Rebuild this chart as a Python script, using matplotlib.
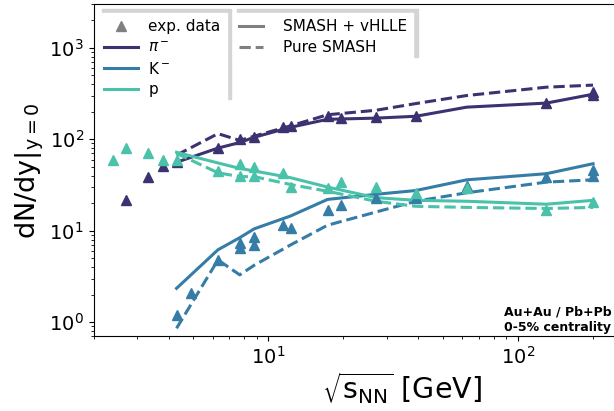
import matplotlib
matplotlib.use("Agg")
import matplotlib.pyplot as plt
from matplotlib.lines import Line2D

# colours
c_pi = '#3b3271'
c_k = '#357ca6'
c_p = '#4ac2aa'

# model energies (sqrt(s_NN) in GeV)
e_model = [4.3, 6.3, 7.7, 8.8, 12.3, 17.3, 27, 39, 62.4, 130, 200]

# SMASH + vHLLE
pi_hyb = [56, 80, 92, 105, 135, 165, 170, 178, 224, 248, 310]
k_hyb = [2.35, 6.2, 8.4, 10.5, 14.5, 22, 25, 27.5, 36, 42, 54]
p_hyb = [72, 55, 48, 45, 38, 30, 23, 21.5, 21, 19.5, 21.5]

# pure SMASH
pi_smash = [67, 115, 97, 108, 140, 185, 207, 245, 300, 370, 390]
k_smash = [0.86, 4.8, 3.3, 4.2, 7, 11.5, 16, 21, 26, 34, 36]
p_smash = [70, 43, 39, 39, 32, 27, 21, 18.5, 18, 17.5, 18]

# experimental data
e_pi_exp = [2.7, 3.3, 3.8, 4.3, 6.3, 7.7, 8.8, 11.5, 12.3, 17.3, 19.6, 27, 39, 130, 200, 200]
pi_exp = [21.5, 38.5, 51, 56, 80, 100, 105, 135, 141, 178, 170, 174, 178, 246, 303, 330]

e_k_exp = [4.3, 4.9, 6.3, 7.7, 7.7, 8.8, 8.8, 11.5, 12.3, 17.3, 19.6, 27, 39, 62.4, 130, 200, 200]
k_exp = [1.19, 2.07, 4.8, 6.5, 7.4, 7.0, 8.6, 11.5, 10.6, 16.8, 19, 22.6, 23, 31, 38.5, 40, 45.7]

e_p_exp = [2.4, 2.7, 3.3, 3.8, 4.3, 6.3, 7.7, 7.7, 8.8, 8.8, 11.5, 12.3, 17.3, 19.6, 27, 39, 62.4, 130, 200]
p_exp = [59, 80, 70, 60, 59, 45, 54, 40, 50, 40, 43, 30, 29, 34, 30, 26, 29, 16.7, 20.5]

fig = plt.figure(figsize=(6.14, 4.11), dpi=100)
ax = fig.add_axes([0.1523, 0.1813, 0.853, 0.809])

lw = 2.2
ms = 7.5
for e, hyb, sm, ex_e, ex, c in [(e_model, pi_hyb, pi_smash, e_pi_exp, pi_exp, c_pi),
                                (e_model, k_hyb, k_smash, e_k_exp, k_exp, c_k),
                                (e_model, p_hyb, p_smash, e_p_exp, p_exp, c_p)]:
    ax.plot(e, hyb, color=c, lw=lw)
    ax.plot(e, sm, color=c, lw=lw, ls='--')
    ax.plot(ex_e, ex, ls='none', marker='^', color=c, ms=ms, zorder=3)

ax.set_xscale('log')
ax.set_yscale('log')
ax.set_xlim(2.0, 250)
ax.set_ylim(0.7, 3000)
ax.tick_params(labelsize=14)
ax.spines['right'].set_visible(False)

# label sits right of centre (original axes was wider than the crop)
ax.set_xlabel(r'$\sqrt{\mathrm{s}_{\mathrm{NN}}}$ [GeV]', fontsize=20.5, x=0.589, labelpad=2)
ax.set_ylabel(r'dN/dy$|_{\mathrm{y}=0}$', fontsize=19.5, labelpad=2)

shadow = {'ox': 3, 'oy': 3, 'facecolor': '0.83', 'edgecolor': '0.83', 'alpha': 1}

h1 = [Line2D([], [], ls='none', marker='^', color='grey', ms=ms),
      Line2D([], [], color=c_pi, lw=lw),
      Line2D([], [], color=c_k, lw=lw),
      Line2D([], [], color=c_p, lw=lw)]
leg1 = ax.legend(h1, ['exp. data', r'$\pi^-$', r'K$^-$', 'p'], loc='upper left',
                 bbox_to_anchor=(0.0086, 0.973), borderaxespad=0, fontsize=11,
                 labelspacing=0.38, handlelength=2.2, handletextpad=0.7,
                 fancybox=False, framealpha=1, edgecolor='white', shadow=shadow)
ax.add_artist(leg1)

h2 = [Line2D([], [], color='grey', lw=lw),
      Line2D([], [], color='grey', lw=lw, ls='--')]
ax.legend(h2, ['SMASH + vHLLE', 'Pure SMASH'], loc='upper left',
          bbox_to_anchor=(0.266, 0.973), borderaxespad=0, fontsize=11,
          labelspacing=0.38, handlelength=1.6, handletextpad=1.3,
          fancybox=False, framealpha=1, edgecolor='white', shadow=shadow)

ax.text(0.783, 0.008, 'Au+Au / Pb+Pb\n0-5% centrality', transform=ax.transAxes,
        fontsize=9, fontweight='bold', ha='left', va='bottom')

fig.savefig('out.png', dpi=100)
